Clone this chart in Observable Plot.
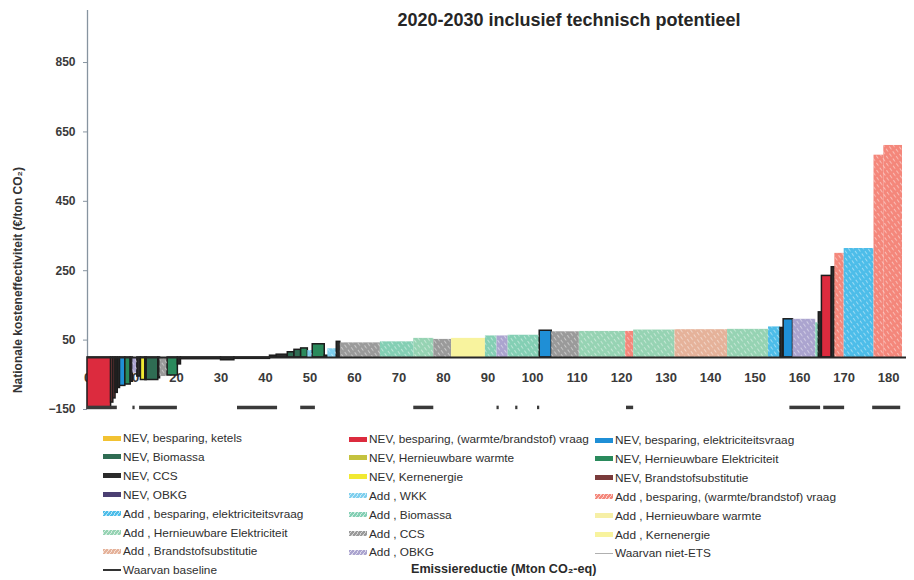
<!DOCTYPE html>
<html><head><meta charset="utf-8">
<script src="https://cdn.jsdelivr.net/npm/d3@7"></script>
<script src="https://cdn.jsdelivr.net/npm/@observablehq/plot@0.6"></script>
<style>
body{margin:0;background:#fff;font-family:"Liberation Sans",Arial,sans-serif;}
#wrap{position:relative;width:914px;height:580px;overflow:hidden;}
#wrap svg{position:absolute;left:0;top:0;}
.leg{position:absolute;font-size:11.8px;color:#2e2e2e;white-space:nowrap;display:flex;align-items:center;height:14px;line-height:14px;}
.sw{display:inline-block;width:18px;height:5px;margin-right:2px;flex:none;}
.xlab{position:absolute;font-weight:bold;font-size:12.6px;color:#2a2a2a;white-space:nowrap;}
</style></head><body><div id="wrap"></div>
<script>
// ---------- data ----------
const title = "2020-2030 inclusief technisch potentieel";
const yLabel = "Nationale kosteneffectiviteit (€/ton CO₂)";
const xLabel = "Emissiereductie (Mton CO₂-eq)";
const xTicks = [0, 10, 20, 30, 40, 50, 60, 70, 80, 90, 100, 110, 120, 130, 140, 150, 160, 170, 180];
const yTicks = [-150, 50, 250, 450, 650, 850];

const categoryKeys = ["nev_ketels","nev_bio","nev_ccs","nev_obkg","add_elek","add_hernelek","add_brand","baseline",
  "nev_warmte","nev_hernwarmte","nev_kern","add_wkk","add_bio","add_ccs","add_obkg",
  "nev_elek","nev_hernelek","nev_brand","add_warmte","add_hernwarmte","add_kern","nietets"];
const categoryLabels = ["NEV, besparing, ketels","NEV, Biomassa","NEV, CCS","NEV, OBKG",
  "Add , besparing, elektriciteitsvraag","Add , Hernieuwbare Elektriciteit","Add , Brandstofsubstitutie","Waarvan baseline",
  "NEV, besparing, (warmte/brandstof) vraag","NEV, Hernieuwbare warmte","NEV, Kernenergie","Add , WKK","Add , Biomassa","Add , CCS","Add , OBKG",
  "NEV, besparing, elektriciteitsvraag","NEV, Hernieuwbare Elektriciteit","NEV, Brandstofsubstitutie",
  "Add , besparing, (warmte/brandstof) vraag","Add , Hernieuwbare warmte","Add , Kernenergie","Waarvan niet-ETS"];
const categoryColors = ["#f2c232","#2f6c53","#2b2b2b","#4b3f72","#4dbde9","#96d3b3","#e5b29a","#333333",
  "#dc2b3e","#c4c23e","#f1e932","#7fcfee","#84cfb4","#9a9a9a","#aba4cf",
  "#1f8fd6","#2a8a5c","#7a3b3b","#f4877b","#f6efa6","#f8f39e","#b0b0b0"];
const hatchedKeys = ["add_elek","add_hernelek","add_brand","add_wkk","add_bio","add_ccs","add_obkg","add_warmte"];
const legendCol1 = ["nev_ketels","nev_bio","nev_ccs","nev_obkg","add_elek","add_hernelek","add_brand","baseline"];
const legendCol2 = ["nev_warmte","nev_hernwarmte","nev_kern","add_wkk","add_bio","add_ccs","add_obkg"];
const legendCol3 = ["nev_elek","nev_hernelek","nev_brand","add_warmte","add_hernwarmte","add_kern","nietets"];

// cost-curve steps: cumulative reduction at the end of each measure, cost, category
const segEnd = [5.3,5.8,6.3,6.8,7.3,8.5,9.7,10.2,11.2,12.0,13.0,13.3,15.9,16.3,18.0,20.3,21.0,30.0,33.0,41.0,
  42.5,45.0,46.5,48.0,49.5,50.6,53.3,54.0,56.0,56.8,65.8,73.3,77.8,81.8,89.4,92.0,94.5,101.6,104.3,110.5,
  120.9,122.7,132.0,143.8,153.0,155.7,156.4,158.5,163.6,164.3,165.0,167.2,167.9,170.0,176.7,178.9,183.1];
const segValues = [-148,-130,-118,-102,-88,-82,-78,-70,-45,-55,-65,-65,-65,-60,-55,-52,-20,-5,-8,-4,
  5,8,15,22,26,20,38,5,25,45,42,45,55,52,55,62,62,64,77,74,
  75,75,79,80,81,88,85,110,110,100,130,235,260,300,314,583,611];
const segCategories = ["nev_warmte","nev_brand","nev_brand","nev_ccs","nev_ccs","nev_elek","nev_hernelek","nev_ccs","add_obkg","nev_ccs",
  "nev_kern","nev_ccs","nev_bio","nev_ccs","add_ccs","nev_hernelek","nev_ccs","nev_ccs","nev_ccs","nev_ccs",
  "nev_ccs","nev_ccs","nev_bio","nev_bio","nev_hernelek","add_wkk","nev_hernelek","nev_ccs","add_wkk","nev_ccs",
  "add_ccs","add_bio","add_hernelek","add_ccs","add_kern","add_bio","add_obkg","add_bio","nev_elek","add_ccs",
  "add_hernelek","add_warmte","add_hernelek","add_brand","add_hernelek","add_elek","nev_ccs","nev_elek","add_obkg","add_bio",
  "nev_ccs","nev_warmte","nev_ccs","add_warmte","add_elek","add_warmte","add_warmte"];

// "Waarvan baseline" marks (start / end of reduction)
const baselineStart = [0.0, 10.2, 11.7, 33.7, 47.9, 73.3, 92.0, 96.2, 101.1, 121.1, 157.8, 165.4, 176.4];
const baselineEnd   = [6.7, 10.7, 20.2, 42.7, 51.2, 77.8, 92.5, 96.7, 101.6, 122.7, 164.7, 170.1, 182.7];

// ---------- build ----------
const colorOf = k => categoryColors[categoryKeys.indexOf(k)];
const labelOf = k => categoryLabels[categoryKeys.indexOf(k)];
const segs = segEnd.map((e, i) => ({x1: i ? segEnd[i - 1] : 0, x2: e, value: segValues[i], cat: segCategories[i]}));
const baseSegs = baselineStart.map((s, i) => ({x1: s, x2: baselineEnd[i]}));

const font = "Liberation Sans, Arial, sans-serif";
const svg = Plot.plot({
  width: 914, height: 420,
  marginLeft: 87, marginRight: 8, marginTop: 10, marginBottom: 11,
  x: {domain: [0, 184], axis: null},
  y: {domain: [-150, 1000], axis: null},
  color: {type: "identity"},
  style: {fontFamily: font, background: "white", overflow: "visible"},
  marks: [
    Plot.ruleX([0], {stroke: "#8794a0", strokeWidth: 1.3}),
    Plot.axisY(yTicks, {tickSize: 4, tickPadding: 8, fontSize: 12, fontWeight: "bold", fill: "#3a3a3a", stroke: "#8794a0", label: null}),
    Plot.text(xTicks, {x: d => d, y: -60, text: d => String(d), fontSize: 13, fontWeight: "bold", fill: "#3a3a3a"}),
    Plot.rect(segs, {x1: "x1", x2: "x2", y1: 0, y2: "value",
      fill: d => colorOf(d.cat),
      stroke: d => d.cat.startsWith("nev") ? "#1c1c1c" : "none", strokeWidth: 1.5}),
    Plot.rect(segs.filter(d => hatchedKeys.includes(d.cat)), {x1: "x1", x2: "x2", y1: 0, y2: "value", fill: () => "url(#hatch)"}),
    Plot.ruleY([0], {stroke: "#262626", strokeWidth: 2}),
    Plot.ruleY(baseSegs, {x1: "x1", x2: "x2", y: -144, stroke: "#3a3a3a", strokeWidth: 3.5}),
    Plot.text([title], {frameAnchor: "top", dx: 72, dy: 3, fontSize: 18, fontWeight: "bold", fill: "#262626", letterSpacing: "0.4px"}),
    Plot.text([yLabel], {frameAnchor: "left", y: 223, dx: -69, rotate: -90, textAnchor: "middle", fontSize: 12, fontWeight: "bold", fill: "#333"})
  ]
});

// hatch pattern for "Add" measures
const defs = d3.select(svg).insert("defs", ":first-child");
const pat = defs.append("pattern").attr("id", "hatch").attr("patternUnits", "userSpaceOnUse")
  .attr("width", 4).attr("height", 6).attr("patternTransform", "rotate(-35)");
pat.append("rect").attr("x", 0).attr("y", 0).attr("width", 1).attr("height", 3.5).attr("fill", "white").attr("fill-opacity", 0.45);

const wrap = document.getElementById("wrap");
wrap.appendChild(svg);

// ---------- legend ----------
const cols = [legendCol1, legendCol2, legendCol3];
const colX = [103, 349, 595];
const colY = [431, 432, 433];
cols.forEach((col, c) => {
  col.forEach((k, r) => {
    const div = document.createElement("div");
    div.className = "leg";
    div.style.left = colX[c] + "px";
    div.style.top = (colY[c] + r * 18.9) + "px";
    const sw = document.createElement("span");
    sw.className = "sw";
    if (k === "baseline" || k === "nietets") {
      sw.style.height = k === "baseline" ? "2px" : "1px";
      sw.style.background = colorOf(k);
    } else if (hatchedKeys.includes(k)) {
      sw.style.background = `repeating-linear-gradient(-55deg, rgba(255,255,255,0.6) 0 1px, transparent 1px 3px), ${colorOf(k)}`;
    } else {
      sw.style.background = colorOf(k);
    }
    div.appendChild(sw);
    div.appendChild(document.createTextNode(labelOf(k)));
    wrap.appendChild(div);
  });
});
const xl = document.createElement("div");
xl.className = "xlab";
xl.textContent = xLabel;
xl.style.left = "411px";
xl.style.top = "562px";
wrap.appendChild(xl);
</script></body></html>
